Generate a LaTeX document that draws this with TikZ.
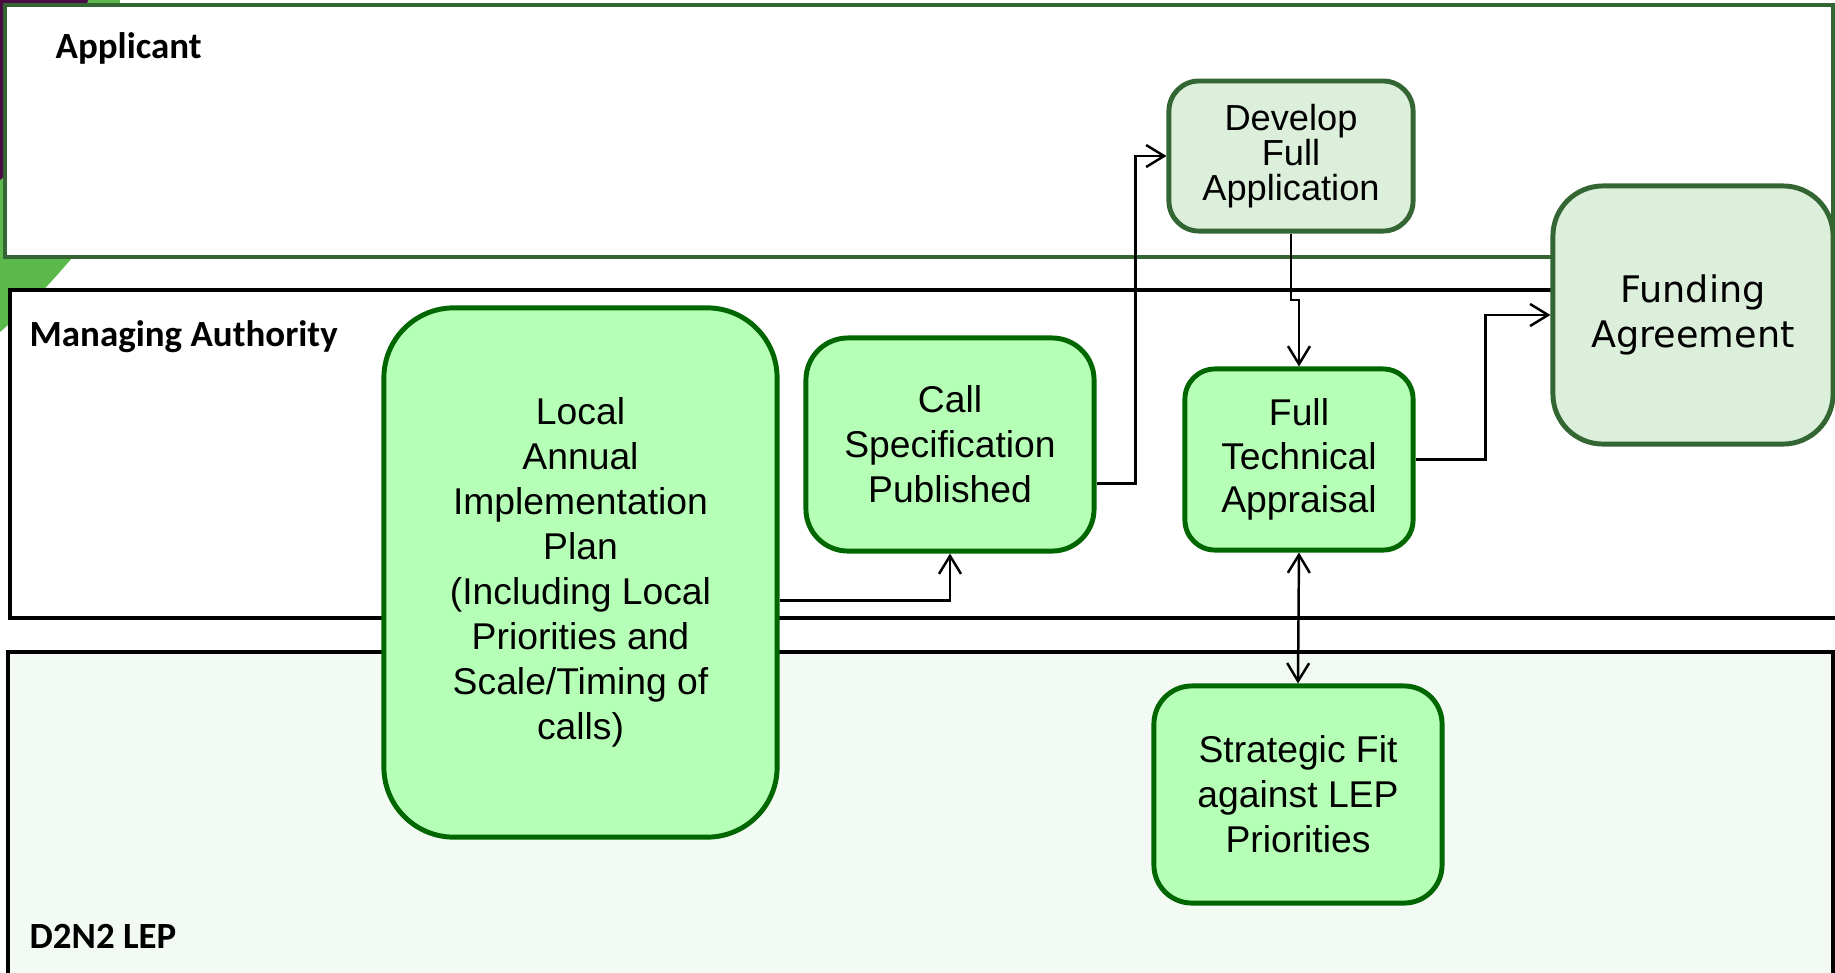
\documentclass[tikz,border=0pt]{standalone}
\usepackage{fontspec}
\setmainfont{Liberation Sans}
\newfontfamily\lanefont{Carlito}
\newfontfamily\widefont{DejaVu Sans}
\usetikzlibrary{arrows.meta,calc}

\definecolor{boxgreen}{HTML}{B6FFB6}
\definecolor{boxedge}{HTML}{006600}
\definecolor{palegreen}{HTML}{DCEFDA}
\definecolor{paleedge}{HTML}{336633}
\definecolor{lepfill}{HTML}{F3FAF3}
\definecolor{blobgreen}{HTML}{5BB84A}
\definecolor{blobpurple}{HTML}{4B0C45}

\tikzset{
  lane/.style={draw=black, line width=1.2pt, fill=white},
  lanelabel/.style={anchor=base west, inner sep=0pt, font=\lanefont\bfseries\fontsize{10.5}{12}\selectfont},
  task/.style={rectangle, draw=boxedge, fill=boxgreen, line width=1.4pt, align=center, inner sep=0pt,
    font=\fontsize{10.6}{12.8}\selectfont},
  paletask/.style={task, draw=paleedge, fill=palegreen},
  link/.style={line width=0.7pt}
}

\begin{document}
\begin{tikzpicture}[x=0.01cm, y=-0.01cm, >={Straight Barb[length=1.8mm,width=2.2mm]}]
    \useasboundingbox (0,0) rectangle (1835,972);
    \clip (0,0) rectangle (1835,972);
    % corner decoration behind the lanes
    \fill[blobgreen] (0,0) -- (120,0) .. controls (115,130) and (100,220) .. (72,258)
        .. controls (40,295) and (20,315) .. (0,332) -- cycle;
    \fill[blobpurple] (0,0) -- (88,0) .. controls (70,80) and (40,150) .. (0,180) -- cycle;

    % swim lanes
    \draw[lane, draw=paleedge] (5,5) rectangle (1833,257);
    \draw[lane] (10,290) rectangle (1850,618);
    \draw[lane, fill=lepfill] (8,652) rectangle (1833,1000);
    \node[lanelabel] (applabel) at (55,58) {Applicant};
    \node[lanelabel] (malabel) at (29,346) {Managing Authority};
    \node[lanelabel] (leplabel) at (29,948) {D2N2 LEP};

    % process boxes
    \node[task, rounded corners=0.7cm, minimum width=3.93cm, minimum height=5.29cm] (laip) at (580.5,572.5)
        {Local\\Annual\\Implementation\\Plan\\(Including Local\\Priorities and\\Scale/Timing of\\calls)};
    \node[task, rounded corners=0.42cm, minimum width=2.88cm, minimum height=2.13cm] (callspec) at (950,444.5)
        {Call\\Specification\\Published};
    \node[paletask, rounded corners=0.3cm, minimum width=2.44cm, minimum height=1.5cm,
        font=\fontsize{10.3}{10}\selectfont] (develop) at (1291,156)
        {Develop\\Full\\Application};
    \node[task, rounded corners=0.3cm, minimum width=2.28cm, minimum height=1.81cm,
        font=\fontsize{10.6}{12.3}\selectfont] (appraisal) at (1299,459.5)
        {Full\\Technical\\Appraisal};
    \node[paletask, rounded corners=0.5cm, minimum width=2.8cm, minimum height=2.58cm,
        font=\widefont\fontsize{10.4}{12.8}\selectfont] (funding) at (1693,315)
        {Funding\\Agreement};
    \node[task, rounded corners=0.38cm, minimum width=2.88cm, minimum height=2.17cm] (fit) at (1298,794.5)
        {Strategic Fit\\against LEP\\Priorities};

    % connectors
    \draw[link, ->] ($(laip.east)+(0,28)$) -| (callspec.south);
    \draw[link, ->] ($(callspec.east)+(0,39)$) -- ++(39,0) |- (develop.west);
    \coordinate (jog) at ($(develop.south)!.5!(appraisal.north)$);
    \draw[link, ->] (develop.south) -- (develop.south |- jog) -- (appraisal.north |- jog) -- (appraisal.north);
    \draw[link, ->] (appraisal.east) -- ++(70,0) |- (funding.west);
    \draw[link, <->] (appraisal.south) -- (fit.north);
\end{tikzpicture}
\end{document}
